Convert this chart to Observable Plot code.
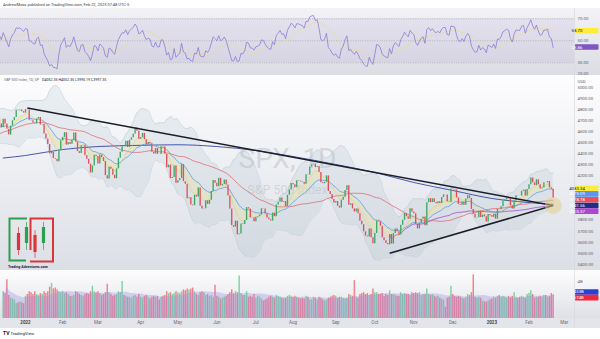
<!DOCTYPE html>
<html><head><meta charset="utf-8">
<script src="https://cdn.jsdelivr.net/npm/d3@7"></script>
<script src="https://cdn.jsdelivr.net/npm/@observablehq/plot@0.6"></script>
<style>
html,body{margin:0;padding:0;background:#fff;}
#root{position:relative;width:600px;height:339px;overflow:hidden;font-family:Roboto,"DejaVu Sans",sans-serif;}
.abs{position:absolute;left:0;}
</style></head><body><div id="root"></div>
<script>
// ---------------- DATA ----------------
// S&P 500 daily closes, one trading day per value, Oct 4 2021 .. Feb 21 2023
const closes = [
// Oct 2021
4300.46,4345.72,4363.55,4399.76,4391.34,4361.19,4350.65,4363.80,4438.26,4471.37,4486.46,4519.63,4536.19,4549.78,4544.90,4566.48,4574.79,4551.68,4596.42,4605.38,
// Nov 2021
4613.67,4630.65,4660.57,4680.06,4697.53,4701.70,4685.25,4646.71,4649.27,4682.85,4682.80,4700.90,4688.67,4704.54,4697.96,4682.94,4690.70,4701.46,4594.62,4655.27,4567.00,
// Dec 2021
4513.04,4577.10,4538.43,4591.67,4686.75,4701.21,4667.45,4712.02,4668.97,4634.09,4709.85,4668.67,4620.64,4568.02,4649.23,4696.56,4725.79,4791.19,4786.35,4793.06,4778.73,4766.18,
// Jan 2022
4796.56,4793.54,4700.58,4696.05,4677.03,4670.29,4713.07,4726.35,4659.03,4662.85,4577.11,4532.76,4482.73,4397.94,4410.13,4356.45,4349.93,4326.51,4431.85,4515.55,
// Feb 2022
4546.54,4589.38,4477.44,4500.53,4483.87,4521.54,4587.18,4504.08,4418.64,4401.67,4471.07,4475.01,4380.26,4348.87,4304.76,4225.50,4288.70,4384.65,4373.94,
// Mar 2022
4306.26,4386.54,4363.49,4328.87,4201.09,4170.70,4277.88,4259.52,4204.31,4173.11,4262.45,4357.86,4411.67,4463.12,4461.18,4511.61,4456.24,4520.16,4543.06,4575.52,4631.60,4602.45,4530.41,
// Apr 2022
4545.86,4582.64,4525.12,4481.15,4500.21,4488.28,4412.53,4397.45,4446.59,4392.59,4391.69,4462.21,4459.45,4393.66,4271.78,4296.12,4175.20,4183.96,4287.50,4131.93,
// May 2022
4155.38,4175.48,4300.17,4146.87,4123.34,3991.24,4001.05,3935.18,3930.08,4023.89,4008.01,4088.85,3923.68,3900.79,3901.36,3973.75,3941.48,3978.73,4057.84,4158.24,4132.15,
// Jun 2022
4101.23,4176.82,4108.54,4121.43,4160.68,4115.77,4017.82,3900.86,3749.63,3735.48,3789.99,3666.77,3674.84,3764.79,3759.89,3795.73,3911.74,3900.11,3821.55,3818.83,3785.38,
// Jul 2022
3825.33,3831.39,3845.08,3902.62,3899.38,3854.43,3818.80,3801.78,3790.38,3863.16,3830.85,3936.69,3959.90,3998.95,3961.63,3966.84,3921.05,4023.61,4072.43,4130.29,
// Aug 2022
4118.63,4091.19,4155.17,4151.94,4145.19,4140.06,4122.47,4210.24,4207.27,4280.15,4297.14,4305.20,4274.04,4283.74,4228.48,4137.99,4128.73,4140.77,4199.12,4057.66,4030.61,3986.16,3955.00,
// Sep 2022
3966.85,3924.26,3908.19,3979.87,4006.18,4067.36,4110.41,3932.69,3946.01,3901.35,3873.33,3899.89,3855.93,3789.93,3757.99,3693.23,3655.04,3647.29,3719.04,3640.47,3585.62,
// Oct 2022
3678.43,3790.93,3783.28,3744.52,3639.66,3612.39,3588.84,3577.03,3669.91,3583.07,3677.95,3719.98,3695.16,3665.78,3752.75,3797.34,3859.11,3830.60,3807.30,3901.06,3871.98,
// Nov 2022
3856.10,3759.69,3719.89,3770.55,3806.80,3828.11,3748.57,3956.37,3992.93,3957.25,3991.73,3958.79,3946.56,3965.34,3949.94,4003.58,4027.26,4026.12,3963.94,3957.63,4080.11,
// Dec 2022
4076.57,4071.70,3998.84,3941.26,3933.92,3963.51,3934.38,3990.56,4019.65,3995.32,3895.75,3852.36,3817.66,3821.62,3878.44,3822.39,3844.82,3829.25,3783.22,3849.28,3839.50,
// Jan 2023
3824.14,3852.97,3808.10,3895.08,3892.09,3919.25,3969.61,3983.17,3999.09,3990.97,3928.86,3898.85,3972.61,4019.81,4016.95,4016.22,4060.43,4070.56,4017.77,4076.60,
// Feb 2023
4119.21,4179.76,4136.48,4111.08,4164.00,4117.86,4081.50,4090.46,4137.29,4136.13,4147.60,4090.41,4079.09,3997.34
];

// Daily volume (billions), Dec 15 2021 .. Feb 21 2023 (aligned with the last closes)
const volumes = [
// Dec 2021 (from Dec 15)
2.9,2.7,4.2,2.5,2.2,2.1,2.0,1.6,1.7,1.8,1.7,1.6,
// Jan 2022
2.4,2.6,2.9,2.8,2.6,2.9,2.6,2.5,2.7,2.6,2.9,2.7,2.9,3.4,3.8,3.2,3.3,3.1,2.9,2.8,
// Feb
2.9,2.7,2.8,2.6,2.4,2.4,2.5,2.9,2.8,2.6,2.5,2.4,2.6,2.7,2.6,2.9,3.5,2.9,2.8,
// Mar
2.9,2.7,2.5,2.6,2.8,3.7,2.8,2.6,2.4,2.5,2.6,2.9,2.8,4.0,2.5,2.4,2.3,2.3,2.2,2.4,2.5,2.3,2.6,
// Apr
2.3,2.2,2.4,2.5,2.3,2.1,2.3,2.4,2.3,2.4,2.0,2.3,2.4,2.5,2.9,2.7,2.8,2.6,2.7,2.9,
// May
2.8,2.7,2.9,3.1,3.0,3.2,3.1,3.2,3.3,2.9,2.6,2.5,2.8,2.9,2.8,2.5,2.6,2.4,2.5,2.3,3.6,
// Jun
2.4,2.3,2.1,2.2,2.3,2.4,2.6,2.8,3.1,2.7,2.9,2.8,4.6,2.7,2.5,2.5,2.9,2.3,2.4,2.3,2.6,
// Jul
2.2,2.4,2.3,2.1,1.9,2.0,2.1,2.3,2.4,2.3,2.2,2.5,2.4,2.3,2.2,2.1,2.2,2.4,2.5,2.4,
// Aug
2.3,2.4,2.3,2.2,2.1,2.2,2.1,2.4,2.3,2.0,2.0,2.3,2.2,2.0,2.3,2.2,2.0,1.9,2.0,2.2,2.3,2.4,2.5,
// Sep
2.4,2.2,2.3,2.3,2.2,2.1,2.2,2.6,2.5,2.4,4.1,2.3,2.2,2.6,2.7,2.8,2.6,2.7,2.5,2.6,3.2,
// Oct
2.8,2.8,2.6,2.6,2.7,2.4,2.6,2.5,3.0,2.6,2.6,2.5,2.4,2.4,2.8,2.6,2.7,2.6,2.6,2.5,2.8,
// Nov
2.7,2.8,2.7,2.8,2.5,2.6,2.6,3.2,2.6,2.5,2.6,2.4,2.3,2.4,2.2,2.1,2.0,1.2,2.2,2.3,3.5,
// Dec
2.6,2.4,2.3,2.4,2.3,2.2,2.1,2.3,2.6,2.5,2.8,4.7,2.3,2.2,2.3,2.2,1.9,1.8,1.8,1.9,2.0,
// Jan 2023
2.1,2.3,2.2,2.4,2.5,2.3,2.4,2.3,2.2,2.4,2.3,2.4,2.8,2.3,2.2,2.3,2.4,2.3,2.2,2.6,
// Feb 2023
2.7,3.0,2.6,2.2,2.3,2.3,2.4,2.3,2.5,2.5,2.3,2.4,2.7,2.57
];

// Calendar: trading days per month from Oct 2021, and their axis labels
const monthLabels = ["Oct","Nov","Dec","2022","Feb","Mar","Apr","May","Jun","Jul","Aug","Sep","Oct","Nov","Dec","2023","Feb","Mar"];
const monthTradingDays = [20,21,22,20,19,23,20,21,21,20,23,21,21,21,21,20,19];

// 200-day SMA: [trading-day index, value]
const ma200Samples = [[51,4360],[63,4383],[83,4437],[102,4464],[125,4475],[145,4480],[166,4464],[187,4428],[207,4374],[230,4302],[251,4230],[272,4139],[293,4067],[314,3995],[334,3958],[347,3941.56]];

// Hand-drawn trendlines
const trendStartIdx = [64, 259];
const trendStartPrice = [4812, 3500];
const trendEndIdx = [347, 347];
const trendEndPrice = [3931, 3931];

// Anchored VWAP anchor (Oct 13 2022 low)
const avwapAnchor = 259;

// Right-scale value badges
const priceBadgeValues = [4083.34, 4075.09, 3978.78, 3941.56, 3925.37];
const rsiBadgeValues = [58.70, 43.86];
const volBadgeText = ["2.453B", "2.574B"];
const volBadgeValues = [2.453, 2.574];

const priceTicks = d3.range(3400, 5001, 100);
const rsiTicks = [20, 30, 40, 50, 60, 70];
const volTicks = [4];

// ---------------- STYLE ----------------
const priceBadgeBg = ["#ffeb3b", "#5b95ec", "#ec4e5a", "#1f2d86", "#ac48d0"];
const priceBadgeFg = ["#131722", "#fff", "#fff", "#fff", "#fff"];
const rsiBadgeBg = ["#ffeb3b", "#7e57c2"];
const rsiBadgeFg = ["#131722", "#fff"];
const volBadgeBg = ["#2a3fd6", "#f0283c"];
const UP = "#3fa862", DOWN = "#e0505c";

// ---------------- COMPUTE ----------------
const N = closes.length;
const vOff = N - volumes.length;
function ema(a, n) { const k = 2 / (n + 1); let p = a[0]; return a.map((v, i) => (p = i ? v * k + p * (1 - k) : v)); }
function sma(a, n) { return a.map((_, i) => i < n - 1 ? null : d3.mean(a.slice(i - n + 1, i + 1))); }
function rsi(a, n) {
  const out = a.map(() => null); let g = 0, l = 0;
  for (let i = 1; i <= n; i++) { const d = a[i] - a[i - 1]; if (d > 0) g += d; else l -= d; }
  g /= n; l /= n; out[n] = 100 - 100 / (1 + g / l);
  for (let i = n + 1; i < a.length; i++) { const d = a[i] - a[i - 1]; g = (g * (n - 1) + Math.max(d, 0)) / n; l = (l * (n - 1) + Math.max(-d, 0)) / n; out[i] = 100 - 100 / (1 + g / l); }
  return out;
}
const e8 = ema(closes, 8), e20 = ema(closes, 20), s50 = sma(closes, 50), s20 = sma(closes, 20);
const bbK = 2.6;
const sd20 = closes.map((_, i) => i < 19 ? null : Math.sqrt(d3.mean(closes.slice(i - 19, i + 1), v => (v - s20[i]) ** 2)));
const r14 = rsi(closes, 14);
const r14ma = r14.map((_, i) => { const w = r14.slice(Math.max(0, i - 13), i + 1).filter(v => v != null); return w.length ? d3.mean(w) : null; });
let cpv = 0, cv = 0;
const rows = closes.map((c, i) => {
  const v = i >= vOff ? volumes[i - vOff] : null;
  let vw = null;
  if (i >= avwapAnchor && v != null) { cpv += c * v; cv += v; vw = cpv / cv; }
  const vwin = volumes.slice(Math.max(0, i - vOff - 19), i - vOff + 1);
  return {
    i, c, o: i ? closes[i - 1] : c, up: i ? c >= closes[i - 1] : true,
    e8: e8[i], e20: e20[i], s50: s50[i],
    bbU: s20[i] != null ? s20[i] + bbK * sd20[i] : null,
    bbL: s20[i] != null ? s20[i] - bbK * sd20[i] : null,
    rsi: r14[i], rsiMa: r14ma[i], v, vma: v != null ? d3.mean(vwin) : null, vw
  };
});
const xDomain = [49.55, 358.49];
const vis = rows.filter(r => r.i >= 49);
const volRows = vis.filter(r => r.v != null);
let acc = 0;
const monthTicks = monthLabels.map((label, k) => { const i = acc; acc += (monthTradingDays[k] || 0); return {i, label, year: /^\d{4}$/.test(label)}; })
  .filter(d => d.i >= xDomain[0] && d.i <= xDomain[1]);
const ma200 = ma200Samples.map(([i, v]) => ({i, v}));
const trends = trendStartIdx.map((s, k) => ({i1: s, p1: trendStartPrice[k], i2: trendEndIdx[k], p2: trendEndPrice[k]}));
const apex = [{i: trendEndIdx[0], p: trendEndPrice[0]}];

// y domains / heights of the three panes
const rsiDomain = [18.45, 79.36], rsiH = 67;
const priceDomain = [3344.2, 5105.7], priceH = 195;
const volDomain = [0, 5.2], volH = 48;

// badge stacking (TradingView pushes overlapping labels apart)
function stack(values, domain, h, center) {
  const sy = d3.scaleLinear(domain, [h, 0]);
  const ideal = values.map(v => sy(v));
  const out = ideal.slice();
  for (let k = 1; k < out.length; k++) if (out[k] < out[k - 1] + 5.7) out[k] = out[k - 1] + 5.7;
  if (center) { const s = d3.mean(ideal) - d3.mean(out); for (let k = 0; k < out.length; k++) out[k] += s; }
  return out;
}
function freeTicks(ticks, domain, h, badgeYs) {
  const sy = d3.scaleLinear(domain, [h, 0]);
  return ticks.filter(t => badgeYs.every(b => Math.abs(sy(t) - b) > 4.6));
}
const rsiBadgeY = stack(rsiBadgeValues, rsiDomain, rsiH, false);
const priceBadgeY = stack(priceBadgeValues, priceDomain, priceH, false);
const volBadgeY = stack(volBadgeValues, volDomain, volH, true);

// ---------------- LAYOUT ----------------
const root = document.getElementById("root");
function bg(top, h, css) { const d = document.createElement("div"); d.className = "abs"; d.style.top = top + "px"; d.style.width = "600px"; d.style.height = h + "px"; d.style.background = css; root.appendChild(d); }
bg(8, 67, "linear-gradient(#f3f3f6,#dcdde4)");
bg(75, 195, "linear-gradient(#fdfdfe,#dcdfe6)");
bg(270, 48, "linear-gradient(#fdfdfe,#dfe1e7)");
bg(318, 10, "#e3e5ea");

const common = {width: 600, marginTop: 0, marginLeft: 0, marginRight: 26, style: {background: "transparent", fontFamily: "Roboto, sans-serif", overflow: "hidden"}, x: {domain: xDomain, axis: null}};
const axisText = (ticks, fmt) => Plot.text(ticks, {x: () => xDomain[1], y: d => d, text: fmt, textAnchor: "start", dx: 3, fontSize: 4.3, fill: "#5d606b"});

function place(svg, top) { svg.style.position = "absolute"; svg.style.left = "0px"; svg.style.top = top + "px"; root.appendChild(svg); }
function badges(chart, ys, texts, bgs, fgs) {
  const svg = d3.select(chart);
  ys.forEach((y, k) => {
    svg.append("rect").attr("x", 575).attr("y", y - 2.8).attr("width", 23.5).attr("height", 5.6).attr("rx", 0.8).attr("fill", bgs[k]);
    svg.append("text").attr("x", 577).attr("y", y).attr("dy", "0.35em").attr("font-size", 4.3).attr("fill", fgs[k]).text(texts[k]);
  });
}

// RSI panel
const rsiChart = Plot.plot({...common, height: rsiH, marginBottom: 0,
  y: {domain: rsiDomain, axis: null},
  marks: [
    Plot.rect([0], {x1: () => xDomain[0], x2: () => xDomain[1], y1: () => 30, y2: () => 70, fill: "#7e57c2", fillOpacity: 0.09}),
    Plot.ruleY([30, 50, 70], {stroke: "#8f92a0", strokeWidth: 0.5, strokeDasharray: "1.2,1.2"}),
    Plot.lineY(vis, {x: "i", y: "rsiMa", stroke: "#eadb93", strokeWidth: 0.7, clip: true}),
    Plot.lineY(vis, {x: "i", y: "rsi", stroke: "#8677d4", strokeWidth: 0.75, clip: true}),
    axisText(freeTicks(rsiTicks, rsiDomain, rsiH, rsiBadgeY), d => d.toFixed(2))
  ]});
place(rsiChart, 8);
badges(rsiChart, rsiBadgeY, rsiBadgeValues.map(v => v.toFixed(2)), rsiBadgeBg, rsiBadgeFg);

// Price panel
const priceChart = Plot.plot({...common, height: priceH, marginBottom: 0,
  y: {domain: priceDomain, axis: null},
  marks: [
    Plot.text(["SPX, 1D"], {frameAnchor: "middle", dy: -14, fontSize: 28, fill: "#b4b7c0", fillOpacity: 0.45}),
    Plot.text(["S&P 500 Index"], {frameAnchor: "middle", dy: 17, fontSize: 12.5, fill: "#b4b7c0", fillOpacity: 0.45}),
    Plot.areaY(vis, {x: "i", y1: "bbL", y2: "bbU", fill: "#a4bcc8", fillOpacity: 0.2, clip: true}),
    Plot.lineY(vis, {x: "i", y: "bbU", stroke: "#b9cad3", strokeWidth: 0.5, clip: true}),
    Plot.lineY(vis, {x: "i", y: "bbL", stroke: "#b9cad3", strokeWidth: 0.5, clip: true}),
    Plot.areaY(vis, {x: "i", y1: "e8", y2: "e20", fill: "#efe39a", fillOpacity: 0.38, clip: true}),
    Plot.lineY(ma200, {x: "i", y: "v", stroke: "#3446a3", strokeWidth: 0.9, curve: "monotone-x", clip: true}),
    Plot.lineY(vis, {x: "i", y: "s50", stroke: "#e06b74", strokeWidth: 0.8, clip: true}),
    Plot.lineY(vis.filter(r => r.vw != null), {x: "i", y: "vw", stroke: "#a347cf", strokeWidth: 0.8, clip: true}),
    Plot.lineY(vis, {x: "i", y: "e20", stroke: "#5a9cf0", strokeWidth: 0.8, clip: true}),
    Plot.lineY(vis, {x: "i", y: "e8", stroke: "#e3cf62", strokeWidth: 0.5, clip: true}),
    Plot.ruleX(vis, {x: "i", y1: "o", y2: "c", stroke: d => d.up ? UP : DOWN, strokeWidth: 1.35, clip: true}),
    Plot.link(trends, {x1: "i1", y1: "p1", x2: "i2", y2: "p2", stroke: "#1b1e28", strokeWidth: 1.5}),
    Plot.dot(apex, {x: "i", y: "p", r: 8.5, fill: "#e2cf88", fillOpacity: 0.55}),
    axisText(freeTicks(priceTicks, priceDomain, priceH, priceBadgeY), d => d.toFixed(2)),
    Plot.text(["USD"], {frameAnchor: "top-right", textAnchor: "start", dx: 3, dy: 4, fontSize: 4.3, fill: "#5d606b"})
  ]});
place(priceChart, 75);
badges(priceChart, priceBadgeY, priceBadgeValues.map(v => v.toFixed(2)), priceBadgeBg, priceBadgeFg);

// Volume panel + time axis
const volChart = Plot.plot({...common, height: volH + 10, marginBottom: 10,
  y: {domain: volDomain, axis: null},
  marks: [
    Plot.ruleX(volRows, {x: "i", y1: () => 0, y2: "v", stroke: d => d.up ? "#7fd39d" : "#f0808b", strokeWidth: 1.45, clip: true}),
    Plot.areaY(volRows, {x: "i", y: "vma", fill: "#998be3", fillOpacity: 0.33, curve: "monotone-x", clip: true}),
    axisText(freeTicks(volTicks, volDomain, volH, volBadgeY), d => d + "B"),
    Plot.text(monthTicks.filter(d => !d.year), {x: "i", text: "label", frameAnchor: "bottom", dy: 5, fontSize: 4.5, fill: "#6a6d78"}),
    Plot.text(monthTicks.filter(d => d.year), {x: "i", text: "label", frameAnchor: "bottom", dy: 5, fontSize: 4.5, fontWeight: "bold", fill: "#3b3e48"})
  ]});
place(volChart, 270);
badges(volChart, volBadgeY, volBadgeText, volBadgeBg, ["#fff", "#fff"]);

// Overlay: header, pane title, logo, footer
const ov = d3.select(root).append("svg").attr("width", 600).attr("height", 339)
  .style("position", "absolute").style("left", "0px").style("top", "0px")
  .style("font-family", "Roboto, sans-serif");
ov.append("line").attr("x1", 574.5).attr("x2", 574.5).attr("y1", 8).attr("y2", 328).attr("stroke", "#d3d6dd").attr("stroke-width", 0.6);
ov.append("text").attr("x", 3).attr("y", 5.5).attr("font-size", 4).attr("fill", "#3a3d47").text("AndrewMoss published on TradingView.com, Feb 22, 2023 07:48 UTC-5");
ov.append("text").attr("x", 4).attr("y", 80.5).attr("font-size", 3.6).attr("fill", "#6a6d78").text("S&P 500 Index, 1D, SP");
ov.append("text").attr("x", 42).attr("y", 80.5).attr("font-size", 3.6).attr("fill", "#1e2130").text("O4052.35  H4052.35  L3995.19  C3997.35");
// Trading Adventures logo
const lg = ov.append("g");
lg.append("path").attr("d", "M27,218.5 H9.5 V260.5 H26").attr("fill", "none").attr("stroke", "#2f9e4e").attr("stroke-width", 2);
lg.append("path").attr("d", "M30.5,250 V218.5 H53 V261.5 H30").attr("fill", "none").attr("stroke", "#d9363b").attr("stroke-width", 2);
[[18.5, 227, 255, 233, 250, "#d9363b"], [26.5, 222, 250, 227, 243, "#2f9e4e"], [35, 230, 258, 235, 252, "#d9363b"], [43.5, 222, 250, 227, 243, "#2f9e4e"]].forEach(([x, w1, w2, b1, b2, c]) => {
  lg.append("line").attr("x1", x).attr("x2", x).attr("y1", w1).attr("y2", w2).attr("stroke", c).attr("stroke-width", 0.7);
  lg.append("rect").attr("x", x - 1.6).attr("y", b1).attr("width", 3.2).attr("height", b2 - b1).attr("fill", c);
});
lg.append("text").attr("x", 8).attr("y", 267.5).attr("font-size", 3.6).attr("font-weight", "bold").attr("fill", "#1e2130").text("Trading Adventures.com");
// footer
ov.append("text").attr("x", 3).attr("y", 335).attr("font-size", 5).attr("font-weight", "bold").attr("fill", "#131722").text("TV");
ov.append("text").attr("x", 10.5).attr("y", 335).attr("font-size", 4.3).attr("fill", "#131722").text("TradingView");
</script>
</body></html>
